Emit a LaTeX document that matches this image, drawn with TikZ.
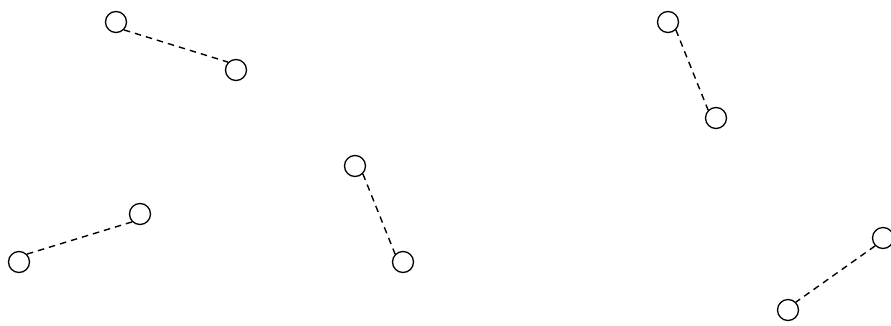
\documentclass[tikz,border=0pt]{standalone}
\begin{document}
\begin{tikzpicture}[x=1pt,y=-1pt,
  dot/.style={circle,draw,line width=1.3pt,minimum size=21pt,inner sep=0pt},
  link/.style={draw,line width=1.4pt,dash pattern=on 6.5pt off 5pt}]
\useasboundingbox (0,0) rectangle (891,325);
\node[dot] (a1) at (116,22) {};
\node[dot] (a2) at (236,70) {};
\node[dot] (b1) at (140,214) {};
\node[dot] (b2) at (19,262) {};
\node[dot] (c1) at (355,166) {};
\node[dot] (c2) at (403,262) {};
\node[dot] (d1) at (668,22) {};
\node[dot] (d2) at (716,118) {};
\node[dot] (e1) at (883,238) {};
\node[dot] (e2) at (788,310) {};
\draw[link] (a1.south east) -- (a2.north west);
\draw[link] (b1.south west) -- (b2.north east);
\draw[link] (c1.south east) -- (c2.north west);
\draw[link] (d1.south east) -- (d2.north west);
\draw[link] (e1.south west) -- (e2.north east);
\end{tikzpicture}
\end{document}
